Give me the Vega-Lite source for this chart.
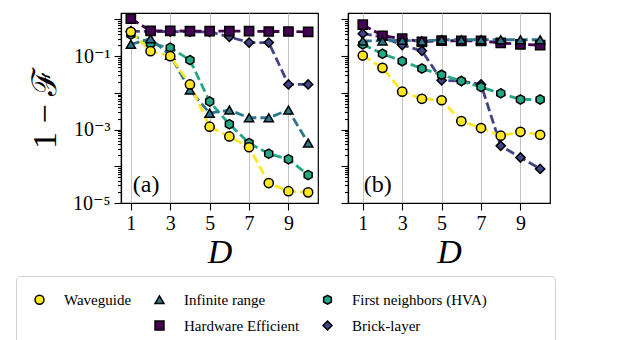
{
  "$schema": "https://vega.github.io/schema/vega-lite/v6.json",
  "background": "white",
  "padding": {"left": 15, "top": 8, "right": 5, "bottom": 5},
  "datasets": {
    "pts": [
      {"p": "a", "s": "Brick-layer", "D": 1, "v": 0.48},
      {"p": "a", "s": "Brick-layer", "D": 2, "v": 0.47},
      {"p": "a", "s": "Brick-layer", "D": 3, "v": 0.47},
      {"p": "a", "s": "Brick-layer", "D": 4, "v": 0.46},
      {"p": "a", "s": "Brick-layer", "D": 5, "v": 0.46},
      {"p": "a", "s": "Brick-layer", "D": 6, "v": 0.335},
      {"p": "a", "s": "Brick-layer", "D": 7, "v": 0.235},
      {"p": "a", "s": "Brick-layer", "D": 8, "v": 0.235},
      {"p": "a", "s": "Brick-layer", "D": 9, "v": 0.017},
      {"p": "a", "s": "Brick-layer", "D": 10, "v": 0.017},
      {"p": "a", "s": "Hardware Efficient", "D": 1, "v": 1.05},
      {"p": "a", "s": "Hardware Efficient", "D": 2, "v": 0.49},
      {"p": "a", "s": "Hardware Efficient", "D": 3, "v": 0.49},
      {"p": "a", "s": "Hardware Efficient", "D": 4, "v": 0.48},
      {"p": "a", "s": "Hardware Efficient", "D": 5, "v": 0.48},
      {"p": "a", "s": "Hardware Efficient", "D": 6, "v": 0.48},
      {"p": "a", "s": "Hardware Efficient", "D": 7, "v": 0.48},
      {"p": "a", "s": "Hardware Efficient", "D": 8, "v": 0.47},
      {"p": "a", "s": "Hardware Efficient", "D": 9, "v": 0.47},
      {"p": "a", "s": "Hardware Efficient", "D": 10, "v": 0.46},
      {"p": "a", "s": "First neighbors (HVA)", "D": 1, "v": 0.39},
      {"p": "a", "s": "First neighbors (HVA)", "D": 2, "v": 0.22},
      {"p": "a", "s": "First neighbors (HVA)", "D": 3, "v": 0.17},
      {"p": "a", "s": "First neighbors (HVA)", "D": 4, "v": 0.078},
      {"p": "a", "s": "First neighbors (HVA)", "D": 5, "v": 0.0058},
      {"p": "a", "s": "First neighbors (HVA)", "D": 6, "v": 0.0014},
      {"p": "a", "s": "First neighbors (HVA)", "D": 7, "v": 0.00043},
      {"p": "a", "s": "First neighbors (HVA)", "D": 8, "v": 0.00022},
      {"p": "a", "s": "First neighbors (HVA)", "D": 9, "v": 0.000156},
      {"p": "a", "s": "First neighbors (HVA)", "D": 10, "v": 0.000058},
      {"p": "a", "s": "Infinite range", "D": 1, "v": 0.21},
      {"p": "a", "s": "Infinite range", "D": 2, "v": 0.30},
      {"p": "a", "s": "Infinite range", "D": 3, "v": 0.106},
      {"p": "a", "s": "Infinite range", "D": 4, "v": 0.012},
      {"p": "a", "s": "Infinite range", "D": 5, "v": 0.0028},
      {"p": "a", "s": "Infinite range", "D": 6, "v": 0.0034},
      {"p": "a", "s": "Infinite range", "D": 7, "v": 0.0021},
      {"p": "a", "s": "Infinite range", "D": 8, "v": 0.0021},
      {"p": "a", "s": "Infinite range", "D": 9, "v": 0.0034},
      {"p": "a", "s": "Infinite range", "D": 10, "v": 0.00043},
      {"p": "a", "s": "Waveguide", "D": 1, "v": 0.46},
      {"p": "a", "s": "Waveguide", "D": 2, "v": 0.137},
      {"p": "a", "s": "Waveguide", "D": 3, "v": 0.1},
      {"p": "a", "s": "Waveguide", "D": 4, "v": 0.017},
      {"p": "a", "s": "Waveguide", "D": 5, "v": 0.0012},
      {"p": "a", "s": "Waveguide", "D": 6, "v": 0.00065},
      {"p": "a", "s": "Waveguide", "D": 7, "v": 0.00033},
      {"p": "a", "s": "Waveguide", "D": 8, "v": 0.000035},
      {"p": "a", "s": "Waveguide", "D": 9, "v": 0.000021},
      {"p": "a", "s": "Waveguide", "D": 10, "v": 0.0000195},
      {"p": "b", "s": "Brick-layer", "D": 1, "v": 0.41},
      {"p": "b", "s": "Brick-layer", "D": 2, "v": 0.33},
      {"p": "b", "s": "Brick-layer", "D": 3, "v": 0.2},
      {"p": "b", "s": "Brick-layer", "D": 4, "v": 0.14},
      {"p": "b", "s": "Brick-layer", "D": 5, "v": 0.022},
      {"p": "b", "s": "Brick-layer", "D": 6, "v": 0.021},
      {"p": "b", "s": "Brick-layer", "D": 7, "v": 0.017},
      {"p": "b", "s": "Brick-layer", "D": 8, "v": 0.00036},
      {"p": "b", "s": "Brick-layer", "D": 9, "v": 0.000174},
      {"p": "b", "s": "Brick-layer", "D": 10, "v": 0.000085},
      {"p": "b", "s": "Hardware Efficient", "D": 1, "v": 0.72},
      {"p": "b", "s": "Hardware Efficient", "D": 2, "v": 0.36},
      {"p": "b", "s": "Hardware Efficient", "D": 3, "v": 0.30},
      {"p": "b", "s": "Hardware Efficient", "D": 4, "v": 0.245},
      {"p": "b", "s": "Hardware Efficient", "D": 5, "v": 0.266},
      {"p": "b", "s": "Hardware Efficient", "D": 6, "v": 0.26},
      {"p": "b", "s": "Hardware Efficient", "D": 7, "v": 0.26},
      {"p": "b", "s": "Hardware Efficient", "D": 8, "v": 0.23},
      {"p": "b", "s": "Hardware Efficient", "D": 9, "v": 0.21},
      {"p": "b", "s": "Hardware Efficient", "D": 10, "v": 0.2},
      {"p": "b", "s": "First neighbors (HVA)", "D": 1, "v": 0.21},
      {"p": "b", "s": "First neighbors (HVA)", "D": 2, "v": 0.116},
      {"p": "b", "s": "First neighbors (HVA)", "D": 3, "v": 0.073},
      {"p": "b", "s": "First neighbors (HVA)", "D": 4, "v": 0.046},
      {"p": "b", "s": "First neighbors (HVA)", "D": 5, "v": 0.031},
      {"p": "b", "s": "First neighbors (HVA)", "D": 6, "v": 0.021},
      {"p": "b", "s": "First neighbors (HVA)", "D": 7, "v": 0.0144},
      {"p": "b", "s": "First neighbors (HVA)", "D": 8, "v": 0.0097},
      {"p": "b", "s": "First neighbors (HVA)", "D": 9, "v": 0.0066},
      {"p": "b", "s": "First neighbors (HVA)", "D": 10, "v": 0.0066},
      {"p": "b", "s": "Infinite range", "D": 1, "v": 0.26},
      {"p": "b", "s": "Infinite range", "D": 2, "v": 0.26},
      {"p": "b", "s": "Infinite range", "D": 3, "v": 0.27},
      {"p": "b", "s": "Infinite range", "D": 4, "v": 0.26},
      {"p": "b", "s": "Infinite range", "D": 5, "v": 0.28},
      {"p": "b", "s": "Infinite range", "D": 6, "v": 0.28},
      {"p": "b", "s": "Infinite range", "D": 7, "v": 0.28},
      {"p": "b", "s": "Infinite range", "D": 8, "v": 0.28},
      {"p": "b", "s": "Infinite range", "D": 9, "v": 0.28},
      {"p": "b", "s": "Infinite range", "D": 10, "v": 0.28},
      {"p": "b", "s": "Waveguide", "D": 1, "v": 0.104},
      {"p": "b", "s": "Waveguide", "D": 2, "v": 0.048},
      {"p": "b", "s": "Waveguide", "D": 3, "v": 0.0108},
      {"p": "b", "s": "Waveguide", "D": 4, "v": 0.0069},
      {"p": "b", "s": "Waveguide", "D": 5, "v": 0.0063},
      {"p": "b", "s": "Waveguide", "D": 6, "v": 0.0017},
      {"p": "b", "s": "Waveguide", "D": 7, "v": 0.0011},
      {"p": "b", "s": "Waveguide", "D": 8, "v": 0.00068},
      {"p": "b", "s": "Waveguide", "D": 9, "v": 0.00087},
      {"p": "b", "s": "Waveguide", "D": 10, "v": 0.00072}
    ]
  },
  "spacing": 20,
  "resolve": {"scale": {"x": "independent", "y": "independent", "color": "shared", "shape": "shared"}},
  "hconcat": [
    {
      "width": 197,
      "height": 190,
      "data": {"name": "pts"},
      "transform": [{"filter": "datum.p === 'a'"}],
      "layer": [
        {
          "data": {"values": [{}]},
          "mark": {"type": "rule", "strokeDash": [6, 4], "color": "#444444", "strokeWidth": 1.3},
          "encoding": {
            "x": {"field": "D", "type": "quantitative", "scale": {"domain": [0.5, 10.5], "nice": false, "zero": false},
              "axis": {"values": [1, 3, 5, 7, 9], "title": "D", "titleFontStyle": "italic", "titleFontSize": 34, "labelFontSize": 20, "tickSize": 7, "labelPadding": 3, "titlePadding": 2, "grid": true}},
            "y": {"datum": 0.01, "type": "quantitative", "scale": {"type": "log", "domain": [0.00001, 1.5], "nice": false},
              "axis": {"title": "1 − ℱ", "titleFontSize": 34, "titlePadding": 10, "labelFontSize": 20, "labelPadding": 4, "labelFlush": false, "labelOverlap": false,
                "values": [0.00001, 0.00002, 0.00003, 0.00004, 0.00005, 0.00006, 0.00007, 0.00008, 0.00009, 0.0001, 0.0002, 0.0003, 0.0004, 0.0005, 0.0006, 0.0007, 0.0008, 0.0009, 0.001, 0.002, 0.003, 0.004, 0.005, 0.006, 0.007, 0.008, 0.009, 0.01, 0.02, 0.03, 0.04, 0.05, 0.06, 0.07, 0.08, 0.09, 0.1, 0.2, 0.3, 0.4, 0.5, 0.6, 0.7, 0.8, 0.9, 1],
                "labelExpr": "datum.value == 0.1 ? '10⁻¹' : datum.value == 0.001 ? '10⁻³' : datum.value == 0.00001 ? '10⁻⁵' : ''",
                "tickSize": {"condition": {"test": "abs(log(datum.value)/LN10 - round(log(datum.value)/LN10)) < 0.01", "value": 7}, "value": 3.5},
                "gridOpacity": {"condition": {"test": "abs(log(datum.value)/LN10 - round(log(datum.value)/LN10)) < 0.01 && datum.value < 0.5", "value": 1}, "value": 0}}}
          }
        },
        {"transform": [{"filter": "datum.s === 'Brick-layer'"}], "mark": {"type": "line", "color": "#414487", "strokeDash": [9, 4], "strokeWidth": 2.8}, "encoding": {"x": {"field": "D", "type": "quantitative"}, "y": {"field": "v", "type": "quantitative"}}},
        {"transform": [{"filter": "datum.s === 'Hardware Efficient'"}], "mark": {"type": "line", "color": "#440154", "strokeDash": [9, 4], "strokeWidth": 2.8}, "encoding": {"x": {"field": "D", "type": "quantitative"}, "y": {"field": "v", "type": "quantitative"}}},
        {"transform": [{"filter": "datum.s === 'First neighbors (HVA)'"}], "mark": {"type": "line", "color": "#22a884", "strokeDash": [9, 4], "strokeWidth": 2.8}, "encoding": {"x": {"field": "D", "type": "quantitative"}, "y": {"field": "v", "type": "quantitative"}}},
        {"transform": [{"filter": "datum.s === 'Infinite range'"}], "mark": {"type": "line", "color": "#2a788e", "strokeDash": [9, 4], "strokeWidth": 2.8}, "encoding": {"x": {"field": "D", "type": "quantitative"}, "y": {"field": "v", "type": "quantitative"}}},
        {"transform": [{"filter": "datum.s === 'Waveguide'"}], "mark": {"type": "line", "color": "#fde725", "strokeDash": [9, 4], "strokeWidth": 2.8}, "encoding": {"x": {"field": "D", "type": "quantitative"}, "y": {"field": "v", "type": "quantitative"}}},
        {
          "mark": {"type": "point", "filled": true, "stroke": "black", "strokeWidth": 1.5, "size": 85, "opacity": 1},
          "encoding": {
            "x": {"field": "D", "type": "quantitative"},
            "y": {"field": "v", "type": "quantitative"},
            "color": {"field": "s", "type": "nominal",
              "legend": {"title": null, "orient": "none", "legendX": -105, "legendY": 263, "direction": "horizontal", "columns": 4, "gridAlign": "each",
                "labelFont": "Liberation Serif, DejaVu Serif", "labelFontSize": 15, "labelColor": "black", "labelLimit": 300, "labelOffset": 17,
                "symbolSize": 80, "symbolStrokeColor": "black", "symbolStrokeWidth": 1.5, "symbolOpacity": 1,
                "padding": 16, "columnPadding": 20, "rowPadding": 10, "strokeColor": "#d0d0d0", "fillColor": "white", "cornerRadius": 4,
                "encode": {"symbols": {"update": {"stroke": {"value": "black"}, "strokeWidth": {"value": 1.5}, "opacity": {"value": 1}}},
                  "labels": {"update": {"font": {"value": "Liberation Serif, DejaVu Serif"}, "fontSize": {"value": 15}}}}},
              "scale": {"domain": ["Waveguide", "Infinite range", "First neighbors (HVA)", "                  ", " ", "Hardware Efficient", "Brick-layer"],
                "range": ["#fde725", "#2a788e", "#22a884", "#ffffff", "#ffffff", "#440154", "#414487"]}},
            "shape": {"field": "s", "type": "nominal",
              "legend": {"title": null, "orient": "none", "legendX": -105, "legendY": 263, "direction": "horizontal", "columns": 4, "gridAlign": "each",
                "labelFont": "Liberation Serif, DejaVu Serif", "labelFontSize": 15, "labelColor": "black", "labelLimit": 300, "labelOffset": 17,
                "symbolSize": 80, "symbolStrokeColor": "black", "symbolStrokeWidth": 1.5, "symbolOpacity": 1,
                "padding": 16, "columnPadding": 20, "rowPadding": 10, "strokeColor": "#d0d0d0", "fillColor": "white", "cornerRadius": 4},
              "scale": {"domain": ["Waveguide", "Infinite range", "First neighbors (HVA)", "                  ", " ", "Hardware Efficient", "Brick-layer"],
                "range": ["circle", "triangle-up", "M0,-1L0.866,-0.5L0.866,0.5L0,1L-0.866,0.5L-0.866,-0.5Z", "M0,0L0,0.001", "M0,0L0,0.001", "square", "diamond"]}}
          }
        },
        {
          "data": {"values": [{}]},
          "mark": {"type": "text", "text": "(a)", "fontSize": 24, "align": "left", "baseline": "middle", "color": "black"},
          "encoding": {"x": {"datum": 1.1, "type": "quantitative"}, "y": {"datum": 0.00003, "type": "quantitative"}}
        }
      ]
    },
    {
      "width": 202,
      "height": 190,
      "data": {"name": "pts"},
      "transform": [{"filter": "datum.p === 'b'"}],
      "layer": [
        {
          "data": {"values": [{}]},
          "mark": {"type": "rule", "strokeDash": [6, 4], "color": "#444444", "strokeWidth": 1.3},
          "encoding": {
            "x": {"field": "D", "type": "quantitative", "scale": {"domain": [0.25, 10.5], "nice": false, "zero": false},
              "axis": {"values": [1, 3, 5, 7, 9], "title": "D", "titleFontStyle": "italic", "titleFontSize": 34, "labelFontSize": 20, "tickSize": 7, "labelPadding": 3, "titlePadding": 2, "grid": true}},
            "y": {"datum": 0.01, "type": "quantitative", "scale": {"type": "log", "domain": [0.00001, 1.5], "nice": false},
              "axis": {"title": null, "labels": false,
                "values": [0.00001, 0.00002, 0.00003, 0.00004, 0.00005, 0.00006, 0.00007, 0.00008, 0.00009, 0.0001, 0.0002, 0.0003, 0.0004, 0.0005, 0.0006, 0.0007, 0.0008, 0.0009, 0.001, 0.002, 0.003, 0.004, 0.005, 0.006, 0.007, 0.008, 0.009, 0.01, 0.02, 0.03, 0.04, 0.05, 0.06, 0.07, 0.08, 0.09, 0.1, 0.2, 0.3, 0.4, 0.5, 0.6, 0.7, 0.8, 0.9, 1],
                "tickSize": {"condition": {"test": "abs(log(datum.value)/LN10 - round(log(datum.value)/LN10)) < 0.01", "value": 7}, "value": 3.5},
                "gridOpacity": {"condition": {"test": "abs(log(datum.value)/LN10 - round(log(datum.value)/LN10)) < 0.01 && datum.value < 0.5", "value": 1}, "value": 0}}}
          }
        },
        {"transform": [{"filter": "datum.s === 'Brick-layer'"}], "mark": {"type": "line", "color": "#414487", "strokeDash": [9, 4], "strokeWidth": 2.8}, "encoding": {"x": {"field": "D", "type": "quantitative"}, "y": {"field": "v", "type": "quantitative"}}},
        {"transform": [{"filter": "datum.s === 'Hardware Efficient'"}], "mark": {"type": "line", "color": "#440154", "strokeDash": [9, 4], "strokeWidth": 2.8}, "encoding": {"x": {"field": "D", "type": "quantitative"}, "y": {"field": "v", "type": "quantitative"}}},
        {"transform": [{"filter": "datum.s === 'First neighbors (HVA)'"}], "mark": {"type": "line", "color": "#22a884", "strokeDash": [9, 4], "strokeWidth": 2.8}, "encoding": {"x": {"field": "D", "type": "quantitative"}, "y": {"field": "v", "type": "quantitative"}}},
        {"transform": [{"filter": "datum.s === 'Infinite range'"}], "mark": {"type": "line", "color": "#2a788e", "strokeDash": [9, 4], "strokeWidth": 2.8}, "encoding": {"x": {"field": "D", "type": "quantitative"}, "y": {"field": "v", "type": "quantitative"}}},
        {"transform": [{"filter": "datum.s === 'Waveguide'"}], "mark": {"type": "line", "color": "#fde725", "strokeDash": [9, 4], "strokeWidth": 2.8}, "encoding": {"x": {"field": "D", "type": "quantitative"}, "y": {"field": "v", "type": "quantitative"}}},
        {
          "mark": {"type": "point", "filled": true, "stroke": "black", "strokeWidth": 1.5, "size": 85, "opacity": 1},
          "encoding": {
            "x": {"field": "D", "type": "quantitative"},
            "y": {"field": "v", "type": "quantitative"},
            "color": {"field": "s", "type": "nominal", "legend": {"title": null}},
            "shape": {"field": "s", "type": "nominal", "legend": {"title": null}}
          }
        },
        {
          "data": {"values": [{}]},
          "mark": {"type": "text", "text": "(b)", "fontSize": 24, "align": "left", "baseline": "middle", "color": "black"},
          "encoding": {"x": {"datum": 1.05, "type": "quantitative"}, "y": {"datum": 0.00003, "type": "quantitative"}}
        }
      ]
    }
  ],
  "config": {
    "font": "Liberation Serif, DejaVu Serif",
    "view": {"stroke": "black", "strokeWidth": 1.2},
    "axis": {"domainColor": "black", "domainWidth": 1.2, "tickColor": "black", "tickWidth": 1.1, "labelColor": "black", "titleColor": "black",
      "labelFont": "Liberation Serif, DejaVu Serif", "titleFont": "Liberation Serif, DejaVu Serif", "titleFontWeight": "normal", "gridColor": "#c4c4c4", "gridWidth": 1},
    "legend": {"labelFont": "Liberation Serif, DejaVu Serif", "labelFontSize": 15, "columnPadding": 20}
  }
}
